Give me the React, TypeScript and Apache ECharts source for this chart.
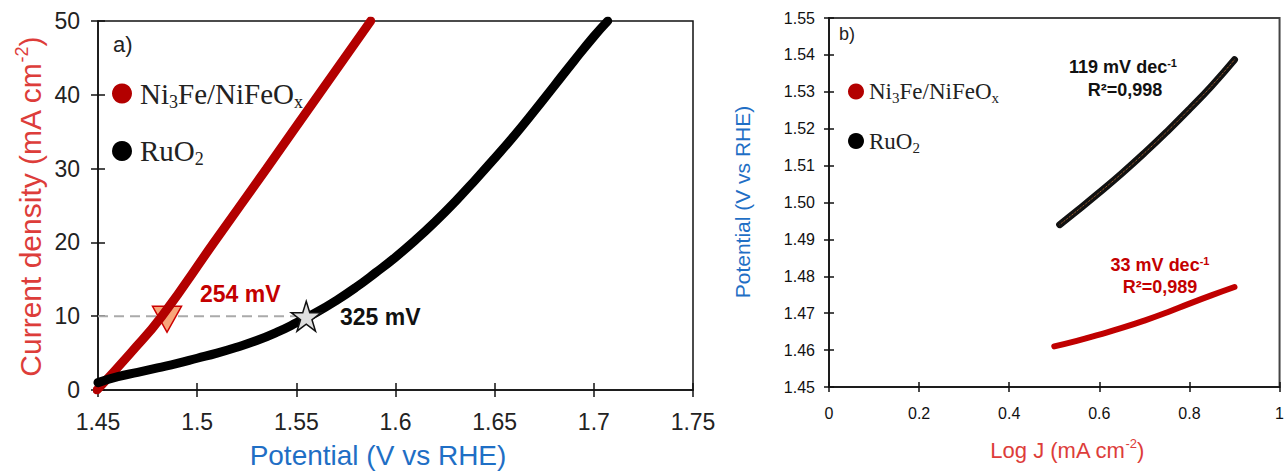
import React, { useEffect, useRef } from "react";
import * as echarts from "echarts";

// ---------- Panel a: polarization curves ----------
const potNiA = [1.4495, 1.4664, 1.4822, 1.5085, 1.535, 1.5612, 1.5875];
const curNiA = [0, 5, 10, 20, 30, 40, 50];

const potRuA = [1.45, 1.46, 1.47, 1.48, 1.49, 1.5, 1.51, 1.52, 1.53, 1.54, 1.55, 1.56, 1.57, 1.58, 1.59, 1.6, 1.61, 1.62, 1.63, 1.64, 1.65, 1.66, 1.67, 1.68, 1.69, 1.7, 1.707];
const curRuA = [1.0, 1.8, 2.4, 3.0, 3.6, 4.3, 5.0, 5.8, 6.7, 7.8, 9.1, 10.5, 12.1, 13.9, 15.9, 18.0, 20.3, 22.8, 25.5, 28.4, 31.4, 34.5, 37.8, 41.2, 44.6, 47.9, 50];

const refCurrent = 10;
const markerNi = [1.4848, refCurrent]; // 254 mV
const markerRu = [1.555, refCurrent]; // 325 mV
const overpotLabels = ["254 mV", "325 mV"];

// ---------- Panel b: Tafel plots ----------
const logJNi = [0.5, 0.55, 0.6, 0.65, 0.7, 0.75, 0.8, 0.85, 0.9];
const potNiB = [1.461, 1.4625, 1.4642, 1.466, 1.468, 1.4702, 1.4726, 1.4749, 1.4771];
const logJRu = [0.512, 0.55, 0.6, 0.65, 0.7, 0.75, 0.8, 0.85, 0.9];
const potRuB = [1.494, 1.4977, 1.5027, 1.5079, 1.5134, 1.5192, 1.5253, 1.5317, 1.5387];

const seriesNames = ["Ni3Fe/NiFeOx", "RuO2"];

const zip = (a: number[], b: number[]) => a.map((v, i) => [v, b[i]]);

const SANS = "Liberation Sans, Arial, Helvetica, sans-serif";
const SERIF = "Liberation Serif, Times New Roman, serif";
const RED = "#b30000";
const RED_TXT = "#c40000";
const RED_TITLE = "#dd3d3a";
const BLUE = "#1f6fc5";
const STAR = "path://M50,0 L61.2,34.5 L97.6,34.5 L68.2,55.9 L79.4,90.5 L50,69.1 L20.6,90.5 L31.8,55.9 L2.4,34.5 L38.8,34.5 Z";

function axisPair(kind: "x" | "y", grid: number, min: number, max: number, interval: number, opts: any) {
  const base = {
    gridIndex: grid,
    type: "value",
    min,
    max,
    interval,
    splitLine: { show: false },
    position: kind === "x" ? "bottom" : "left",
  };
  return [
    {
      ...base,
      axisLine: { show: true, onZero: false, lineStyle: { color: "#111", width: 1.5 } },
      axisTick: { show: true, inside: false, length: opts.tick, lineStyle: { color: "#111", width: 1.5 } },
      axisLabel: {
        show: true,
        margin: opts.margin,
        fontSize: opts.fontSize,
        color: opts.color || "#222",
        fontFamily: SANS,
        fontWeight: opts.fontWeight || "normal",
        formatter: opts.formatter,
      },
    },
    {
      ...base,
      axisLine: { show: false, onZero: false },
      axisTick: { show: true, inside: true, length: opts.tick, lineStyle: { color: "#111", width: 1.5 } },
      axisLabel: { show: false },
    },
  ];
}

export default function App() {
  const ref = useRef<HTMLDivElement>(null);

  useEffect(() => {
    if (!ref.current) return;
    const chart = echarts.init(ref.current, null, { renderer: "svg" });

    const legendFormatter = (name: string) =>
      name === seriesNames[0] ? "{m|Ni}{s|3}{m|Fe/NiFeO}{s|x}" : "{m|RuO}{s|2}";

    const option: any = {
      animation: false,
      backgroundColor: "#fff",
      grid: [
        { left: 98, top: 21, width: 595, height: 369, show: true, borderColor: "#111", borderWidth: 1.5 },
        { left: 829, top: 18, width: 460, height: 369, show: true, borderColor: "#444", borderWidth: 2 },
      ],
      xAxis: [
        ...axisPair("x", 0, 1.45, 1.75, 0.05, {
          tick: 7,
          margin: 20,
          fontSize: 23,
          formatter: (v: number) => String(Number(v.toFixed(2))),
        }),
        ...axisPair("x", 1, 0, 1, 0.2, {
          tick: 5,
          margin: 18,
          fontSize: 16,
          color: "#111",
          formatter: (v: number) => String(Number(v.toFixed(1))),
        }),
      ],
      yAxis: [
        ...axisPair("y", 0, 0, 50, 10, {
          tick: 7,
          margin: 18,
          fontSize: 23,
          formatter: (v: number) => String(v),
        }),
        ...axisPair("y", 1, 1.45, 1.55, 0.01, {
          tick: 5,
          margin: 14,
          fontSize: 16,
          color: "#111",
          formatter: (v: number) => v.toFixed(2),
        }),
      ],
      legend: [
        {
          orient: "vertical",
          left: 112,
          top: 79,
          padding: 0,
          itemWidth: 26,
          itemHeight: 20,
          itemGap: 26,
          selectedMode: false,
          data: seriesNames.map((n) => ({ name: n, icon: "circle" })),
          formatter: legendFormatter,
          textStyle: {
            color: "#222",
            rich: {
              m: { fontFamily: SERIF, fontSize: 29, lineHeight: 34, color: "#222" },
              s: { fontFamily: SERIF, fontSize: 18, lineHeight: 16, verticalAlign: "bottom", color: "#222" },
            },
          },
        },
        {
          orient: "vertical",
          left: 848,
          top: 80,
          padding: 0,
          itemWidth: 16,
          itemHeight: 16,
          itemGap: 24,
          selectedMode: false,
          data: seriesNames.map((n) => ({ name: n, icon: "circle" })),
          formatter: legendFormatter,
          textStyle: {
            color: "#222",
            rich: {
              m: { fontFamily: SERIF, fontSize: 23, lineHeight: 28, color: "#222" },
              s: { fontFamily: SERIF, fontSize: 15, lineHeight: 13, verticalAlign: "bottom", color: "#222" },
            },
          },
        },
      ],
      series: [
        {
          name: "ref10",
          type: "line",
          xAxisIndex: 0,
          yAxisIndex: 0,
          data: [
            [1.45, refCurrent],
            [markerRu[0], refCurrent],
          ],
          showSymbol: false,
          symbol: "none",
          lineStyle: { color: "#aaaaaa", width: 2, type: [10, 6] },
          z: 1,
          silent: true,
        },
        {
          name: "marker254",
          type: "scatter",
          xAxisIndex: 0,
          yAxisIndex: 0,
          data: [markerNi],
          symbol: "triangle",
          symbolRotate: 180,
          symbolSize: [29, 26],
          symbolOffset: [0, 3],
          itemStyle: { color: "#f8a57a", borderColor: "#cc0000", borderWidth: 1.5, opacity: 1 },
          z: 2,
          silent: true,
        },
        {
          name: seriesNames[0],
          type: "line",
          xAxisIndex: 0,
          yAxisIndex: 0,
          data: zip(potNiA, curNiA),
          smooth: true,
          showSymbol: false,
          symbol: "circle",
          lineStyle: { color: RED, width: 9, cap: "round" },
          itemStyle: { color: RED },
          z: 3,
        },
        {
          name: seriesNames[1],
          type: "line",
          xAxisIndex: 0,
          yAxisIndex: 0,
          data: zip(potRuA, curRuA),
          smooth: true,
          showSymbol: false,
          symbol: "circle",
          lineStyle: { color: "#000", width: 9, cap: "round" },
          itemStyle: { color: "#000" },
          z: 3,
        },
        {
          name: "marker325",
          type: "scatter",
          xAxisIndex: 0,
          yAxisIndex: 0,
          data: [markerRu],
          symbol: STAR,
          symbolSize: [30, 30],
          itemStyle: { color: "#dedede", borderColor: "#111", borderWidth: 1.5, opacity: 1 },
          z: 5,
          silent: true,
        },
        {
          name: seriesNames[0],
          type: "line",
          xAxisIndex: 2,
          yAxisIndex: 2,
          data: zip(logJNi, potNiB),
          smooth: true,
          showSymbol: false,
          symbol: "circle",
          lineStyle: { color: "#c00000", width: 6, cap: "round" },
          itemStyle: { color: "#c00000" },
          z: 3,
        },
        {
          name: seriesNames[1],
          type: "line",
          xAxisIndex: 2,
          yAxisIndex: 2,
          data: zip(logJRu, potRuB),
          smooth: true,
          showSymbol: false,
          symbol: "circle",
          lineStyle: { color: "#111", width: 7, cap: "round" },
          itemStyle: { color: "#000" },
          z: 3,
        },
        {
          name: "fitRu",
          type: "line",
          xAxisIndex: 2,
          yAxisIndex: 2,
          data: zip(logJRu, potRuB),
          smooth: true,
          showSymbol: false,
          symbol: "none",
          lineStyle: { color: "#c8763a", width: 1, type: "dotted" },
          z: 4,
          silent: true,
        },
      ],
      graphic: [
        { type: "text", x: 113, y: 44, style: { text: "a)", font: `22px ${SANS}`, fill: "#222", verticalAlign: "middle" } },
        { type: "text", x: 839, y: 34, style: { text: "b)", font: `18px ${SANS}`, fill: "#222", verticalAlign: "middle" } },
        {
          type: "text",
          x: 200,
          y: 294,
          style: { text: overpotLabels[0], font: `bold 23px ${SANS}`, fill: RED_TXT, verticalAlign: "middle" },
        },
        {
          type: "text",
          x: 340,
          y: 317,
          style: { text: overpotLabels[1], font: `bold 23px ${SANS}`, fill: "#111", verticalAlign: "middle" },
        },
        {
          type: "text",
          x: 1123,
          y: 67,
          style: {
            text: "{b|119 mV dec}{p|-1}",
            align: "center",
            verticalAlign: "middle",
            rich: {
              b: { fontFamily: SANS, fontWeight: "bold", fontSize: 18, lineHeight: 20, fill: "#111", color: "#111" },
              p: { fontFamily: SANS, fontWeight: "bold", fontSize: 11, lineHeight: 11, verticalAlign: "top", fill: "#111", color: "#111" },
            },
          },
        },
        {
          type: "text",
          x: 1125,
          y: 90,
          style: { text: "R²=0,998", font: `bold 18px ${SANS}`, fill: "#111", align: "center", verticalAlign: "middle" },
        },
        {
          type: "text",
          x: 1160,
          y: 265,
          style: {
            text: "{b|33 mV dec}{p|-1}",
            align: "center",
            verticalAlign: "middle",
            rich: {
              b: { fontFamily: SANS, fontWeight: "bold", fontSize: 18, lineHeight: 20, fill: RED_TXT, color: RED_TXT },
              p: { fontFamily: SANS, fontWeight: "bold", fontSize: 11, lineHeight: 11, verticalAlign: "top", fill: RED_TXT, color: RED_TXT },
            },
          },
        },
        {
          type: "text",
          x: 1160,
          y: 287,
          style: { text: "R²=0,989", font: `bold 18px ${SANS}`, fill: RED_TXT, align: "center", verticalAlign: "middle" },
        },
        // axis titles
        {
          type: "text",
          x: 30,
          y: 207,
          rotation: Math.PI / 2,
          style: {
            text: "{m|Current density (mA cm}{p|-2}{m|)}",
            align: "center",
            verticalAlign: "middle",
            rich: {
              m: { fontFamily: SANS, fontSize: 30, lineHeight: 34, fill: RED_TITLE, color: RED_TITLE },
              p: { fontFamily: SANS, fontSize: 18, lineHeight: 18, verticalAlign: "top", fill: RED_TITLE, color: RED_TITLE },
            },
          },
        },
        {
          type: "text",
          x: 378,
          y: 455,
          style: { text: "Potential (V vs RHE)", font: `28px ${SANS}`, fill: BLUE, align: "center", verticalAlign: "middle" },
        },
        {
          type: "text",
          x: 742,
          y: 202,
          rotation: Math.PI / 2,
          style: { text: "Potential (V vs RHE)", font: `21px ${SANS}`, fill: BLUE, align: "center", verticalAlign: "middle" },
        },
        {
          type: "text",
          x: 1067,
          y: 450,
          style: {
            text: "{m|Log J (mA cm}{p|-2}{m|)}",
            align: "center",
            verticalAlign: "middle",
            rich: {
              m: { fontFamily: SANS, fontSize: 22, lineHeight: 26, fill: RED_TITLE, color: RED_TITLE },
              p: { fontFamily: SANS, fontSize: 13, lineHeight: 13, verticalAlign: "top", fill: RED_TITLE, color: RED_TITLE },
            },
          },
        },
      ],
    };

    chart.setOption(option);
    return () => chart.dispose();
  }, []);

  return (
    <div
      ref={ref}
      style={{ position: "fixed", left: 0, top: 0, width: 1287, height: 471, background: "#fff" }}
    />
  );
}
